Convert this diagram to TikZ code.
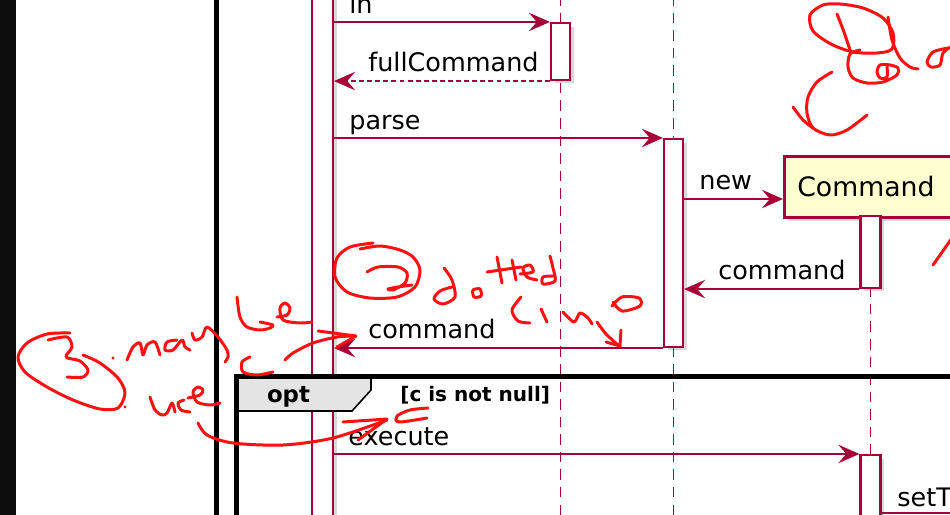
\documentclass[tikz,border=0pt]{standalone}
\usepackage{fontspec}
\setmainfont{DejaVu Sans}
\usepackage{tikz}
\usetikzlibrary{positioning, arrows.meta, shadows, calc}

\definecolor{umlred}{HTML}{A80036}
\definecolor{penred}{HTML}{FF1010}
\definecolor{partfill}{HTML}{FEFECE}
\definecolor{tabgray}{HTML}{E4E4E4}

\tikzset{
  act/.style={draw=umlred, fill=white, line width=1.2pt, minimum width=0.4cm, inner sep=0pt,
    drop shadow={shadow xshift=0.07cm, shadow yshift=-0.07cm, opacity=0.3}},
  partbox/.style={draw=umlred, fill=partfill, line width=1.5pt, minimum height=1.22cm, text width=3.6cm,
    align=left, inner xsep=0.26cm, font=\fontsize{15.2}{17}\selectfont,
    drop shadow={shadow xshift=0.07cm, shadow yshift=-0.07cm, opacity=0.3}},
  msg/.style={draw=umlred, line width=1.1pt, -{Stealth[length=12pt, width=10.5pt, inset=4.5pt]}},
  reply/.style={msg, dash pattern=on 2.8pt off 1.8pt},
  lifeline/.style={draw=umlred, line width=0.9pt, dash pattern=on 6pt off 4pt},
  msglabel/.style={anchor=base west, inner sep=0pt, font=\fontsize{14.5}{17}\selectfont},
  frameline/.style={draw=black, line width=2.4pt},
  scribble/.style={draw=penred, line width=1.7pt, line cap=round, line join=round},
}

\begin{document}
\begin{tikzpicture}[x=0.02cm, y=-0.02cm]
    \useasboundingbox (0,0) rectangle (950,514);
    \clip (0,0) rectangle (950,514);

    % window edge and outer frame
    \fill[black!95] (0,-5) rectangle (16,520);
    \draw[frameline, line width=2.7pt] (216.5,-5) -- (216.5,520);

    % lifelines
    \coordinate (inTop) at (560.5,-5);
    \coordinate (inBot) at (560.5,520);
    \coordinate (parseTop) at (673.5,-5);
    \coordinate (parseBot) at (673.5,520);
    \coordinate (cmdTop) at (870.5,216);
    \coordinate (cmdBot) at (870.5,520);
    \draw[lifeline] (inTop) -- (inBot);
    \draw[lifeline] (parseTop) -- (parseBot);
    \draw[lifeline] (cmdTop) -- (cmdBot);

    % activations and participant
    \node[act, minimum width=0.42cm, minimum height=11.4cm] (mainAct) at (322.5,257) {};
    \node[act, minimum width=0.38cm, minimum height=1.14cm] (inAct) at (560.5,51.5) {};
    \node[act, minimum width=0.38cm, minimum height=4.16cm] (parseAct) at (673.5,243) {};
    \node[partbox, anchor=north west] (Command) at (783,155) {Command};
    \node[act, minimum height=1.44cm] (cmdAct) at (870.5,252) {};
    \node[act, minimum height=1.9cm] (execAct) at (870.5,502.5) {};

    % messages
    \draw[msg] (mainAct.east |- inAct.north) -- (inAct.north west);
    \node[msglabel] (inLbl) at (349,13) {in};
    \draw[reply] (inAct.south west) -- (mainAct.east |- inAct.south);
    \node[msglabel] (fullLbl) at (368,71) {fullCommand};
    \draw[msg] (mainAct.east |- parseAct.north) -- (parseAct.north west);
    \node[msglabel] (parseLbl) at (349,129) {parse};
    \coordinate (newY) at (0,199);
    \draw[msg] (parseAct.east |- newY) -- (Command.west |- newY);
    \node[msglabel] (newLbl) at (699,189) {new};
    \draw[msg] (cmdAct.south west) -- (parseAct.east |- cmdAct.south);
    \node[msglabel] (cmdLbl) at (718,279) {command};
    \draw[msg] (parseAct.south west) -- (mainAct.east |- parseAct.south);
    \node[msglabel] (retLbl) at (368,338) {command};
    \draw[msg] (mainAct.east |- execAct.north) -- (execAct.north west);
    \node[msglabel] (execLbl) at (348,445) {execute};
    \coordinate (setEnd) at (960,513);
    \draw[draw=umlred, line width=1.1pt] (execAct.east |- setEnd) -- (setEnd);
    \node[msglabel] (setLbl) at (897,506) {setT};

    % opt fragment
    \draw[black, line width=0.9pt, fill=tabgray] (236.5,377) -- (371,377) -- (371,390) -- (352,411) -- (236.5,411) -- cycle;
    \draw[frameline] (236.5,525) -- (236.5,376.5) -- (960,376.5);
    \node[anchor=base, inner sep=0pt, font=\bfseries\fontsize{13}{15}\selectfont] (optTag) at (288.5,402) {opt};
    \node[anchor=base west, inner sep=0pt, font=\bfseries\fontsize{11.4}{13}\selectfont] (optGuard) at (400,401) {[c is not null]};

    % pen notes (1)
    \draw[scribble] plot[smooth cycle] coordinates {(823,5) (810,15) (813,31) (831,44) (853,52) (877,53) (892,49) (893,33) (883,18) (863,8) (840,4)};
    \draw[scribble] plot[smooth] coordinates {(837,14) (844,32) (850,50)};
    \draw[scribble] plot[smooth] coordinates {(860,50) (850,54) (848,67) (853,78) (867,83) (883,82) (897,75) (898,68) (890,65) (880,65) (877,72) (880,78) (887,77) (887,67)};
    \draw[scribble] plot[smooth] coordinates {(888,17) (892,40) (900,58) (910,67) (918,69)};
    \draw[scribble] plot[smooth] coordinates {(948,48) (933,52) (927,62) (931,67) (940,65) (943,53) (952,46)};
    \draw[scribble] plot[smooth] coordinates {(832,72) (817,82) (808,97) (807,113) (813,128) (830,135) (847,130) (867,115)};
    \draw[scribble] plot[smooth] coordinates {(793,107) (803,120) (813,128)};
    \draw[scribble] (933,265) -- (952,238);

    % pen notes (2)
    \draw[scribble] plot[smooth] coordinates {(373,243) (350,247) (337,258) (335,277) (347,292) (370,298) (397,297) (415,287) (420,270) (413,257) (400,250) (380,246) (360,249)};
    \draw[scribble] plot[smooth] coordinates {(367,272) (378,267) (398,267) (407,273) (405,283) (393,290) (388,289) (398,287) (412,285)};
    \draw[scribble] plot[smooth] coordinates {(452,287) (440,291) (434,299) (443,304) (455,297) (452,280) (444,268)};
    \draw[scribble] plot[smooth cycle] coordinates {(473,290) (480,289) (481,296) (474,297)};
    \draw[scribble] (497,257) -- (502,283);
    \draw[scribble] (487,272) -- (521,267);
    \draw[scribble] (512,260) -- (516,280);
    \draw[scribble] plot[smooth] coordinates {(520,274) (533,272) (530,265) (523,268) (527,277) (537,280)};
    \draw[scribble] plot[smooth] coordinates {(553,276) (543,277) (543,284) (555,281) (553,268) (550,256)};
    \draw[scribble] plot[smooth] coordinates {(521,297) (512,310) (518,321) (530,323)};
    \draw[scribble] (541,309) -- (547,322);
    \draw[scribble] plot[smooth] coordinates {(563,312) (574,322) (580,313) (588,318) (592,324)};
    \draw[scribble] plot[smooth] coordinates {(612,306) (622,297) (639,298) (640,306) (622,311) (613,302)};
    \draw[scribble] plot[smooth] coordinates {(597,322) (606,334) (618,345)};
    \draw[scribble] (621,330) -- (620,346) -- (606,342);

    % pen notes (3)
    \draw[scribble] plot[smooth] coordinates {(70,333) (47,334) (27,343) (18,357) (25,372) (47,387) (73,400) (100,409) (118,408) (125,393) (118,378) (100,363) (83,355)};
    \draw[scribble] plot[smooth] coordinates {(48,340) (67,337) (72,347) (66,357) (80,361) (88,370) (83,377) (67,377)};
    \fill[penred] (125,407) circle (1.6);
    \fill[penred] (113,358) circle (1.6);
    \draw[scribble] plot[smooth] coordinates {(127,360) (133,347) (140,343) (143,355) (147,345) (155,342) (160,355)};
    \draw[scribble] plot[smooth] coordinates {(177,340) (167,342) (165,350) (173,350) (182,340) (185,347) (190,350)};
    \draw[scribble] plot[smooth] coordinates {(192,333) (195,340) (202,337) (207,327) (218,337) (227,350) (228,357) (225,362)};
    \draw[scribble] plot[smooth] coordinates {(237,297) (240,317) (247,327) (260,330) (270,328) (273,325) (260,322)};
    \draw[scribble] plot[smooth] coordinates {(277,317) (287,315) (290,308) (285,303) (280,308) (283,320) (300,323) (312,322)};
    \draw[scribble] plot[smooth] coordinates {(250,357) (242,362) (243,372) (257,375) (273,372)};
    \draw[scribble] plot[smooth] coordinates {(285,360) (293,353) (313,343) (337,337) (355,336)};
    \draw[scribble] (318,331) -- (356,336) -- (337,347);
    \draw[scribble] plot[smooth] coordinates {(150,397) (155,410) (162,415) (167,413) (172,403) (175,412)};
    \draw[scribble] plot[smooth] coordinates {(184,400) (178,403) (181,410) (190,412)};
    \draw[scribble] plot[smooth] coordinates {(188,398) (200,395) (203,390) (198,387) (193,392) (197,402) (210,405) (220,403)};
    \draw[scribble] plot[smooth] coordinates {(198,423) (207,435) (233,443) (283,445) (333,438) (387,420)};
    \draw[scribble] (343,422) -- (387,419) -- (358,440);
    \draw[scribble] plot[smooth] coordinates {(428,408) (410,410) (397,416) (399,422) (427,418)};
\end{tikzpicture}
\end{document}
